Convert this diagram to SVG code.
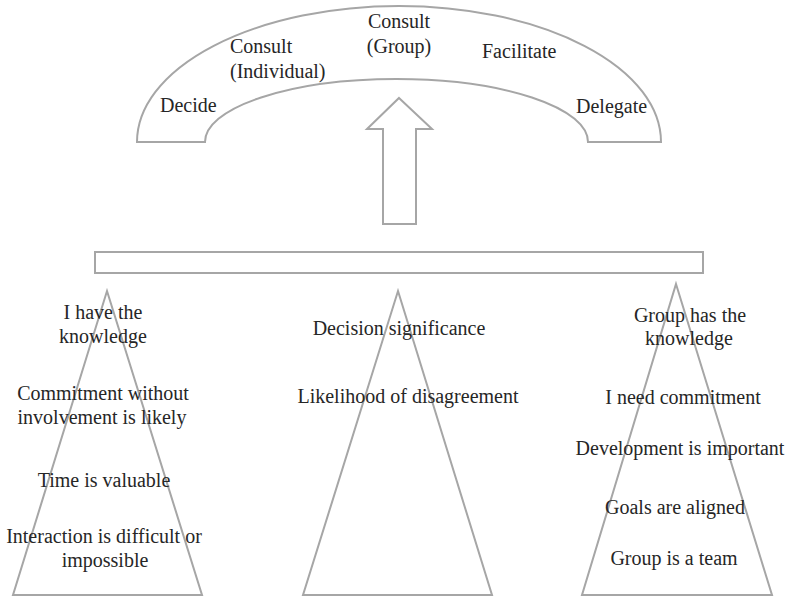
<svg xmlns="http://www.w3.org/2000/svg" width="793" height="598" viewBox="0 0 793 598">
<style>
.shape{fill:#ffffff;stroke:#a6a6a6;stroke-width:2;stroke-linejoin:miter}
.t{font-family:"Liberation Serif","Times New Roman",serif;font-size:20px;fill:#262626}
.c{text-anchor:middle}
</style>
<rect width="793" height="598" fill="#ffffff"/>
<g id="arch">
<path class="shape" d="M137,142 A262,136 0 0 1 661,142 L588,142 A191.5,63 0 0 0 205,142 Z"/>
<text class="t c" x="399" y="28">Consult</text>
<text class="t c" x="399" y="53">(Group)</text>
<text class="t" x="230" y="53">Consult</text>
<text class="t" x="230" y="78">(Individual)</text>
<text class="t" x="482" y="58">Facilitate</text>
<text class="t" x="160" y="112">Decide</text>
<text class="t" x="576" y="113">Delegate</text>
</g>
<g id="connectors">
<path class="shape" d="M399,98 L432,129 L416,129 L416,224 L383,224 L383,129 L367,129 Z"/>
</g>
<g id="bar">
<rect class="shape" x="95" y="252" width="608" height="21"/>
</g>
<g id="triangle-left">
<path class="shape" d="M107,291 L202,595 L13,595 Z"/>
<text class="t c" x="103" y="319">I have the</text>
<text class="t c" x="103" y="343">knowledge</text>
<text class="t c" x="103" y="400">Commitment without</text>
<text class="t c" x="102" y="424">involvement is likely</text>
<text class="t c" x="104" y="487">Time is valuable</text>
<text class="t c" x="104" y="543">Interaction is difficult or</text>
<text class="t c" x="105" y="567">impossible</text>
</g>
<g id="triangle-middle">
<path class="shape" d="M398,291 L492,595 L303,595 Z"/>
<text class="t c" x="399" y="335">Decision significance</text>
<text class="t c" x="408" y="403">Likelihood of disagreement</text>
</g>
<g id="triangle-right">
<path class="shape" d="M676,284 L772,595 L582,595 Z"/>
<text class="t c" x="690" y="322">Group has the</text>
<text class="t c" x="689" y="345">knowledge</text>
<text class="t c" x="683" y="404">I need commitment</text>
<text class="t c" x="680" y="455">Development is important</text>
<text class="t c" x="675" y="514">Goals are aligned</text>
<text class="t c" x="674" y="565">Group is a team</text>
</g>
</svg>
